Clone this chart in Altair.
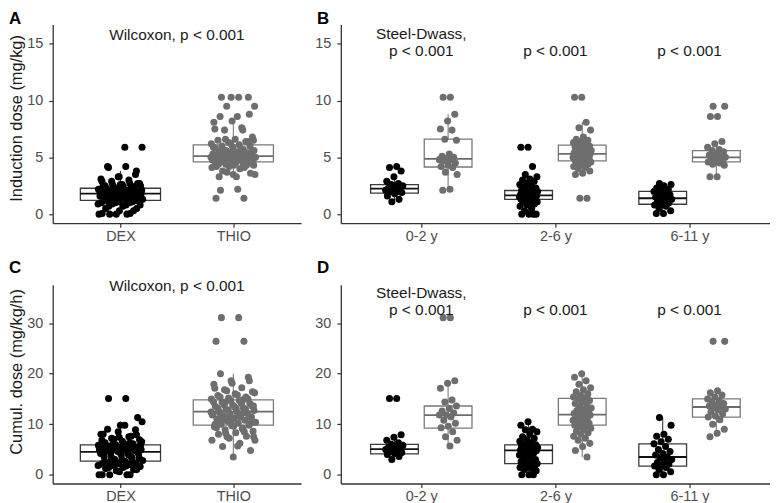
import json
import pandas as pd
import altair as alt

# ---------------- data ----------------
treatments = ["DEX", "THIO"]
age_groups = ["0-2 y", "2-6 y", "6-11 y"]

# Induction dose (mg/kg), per age group
ind_dex_0_2 = [4.2, 4.1, 3.8, 3.3, 2.9, 2.7, 2.6, 2.5, 2.4, 2.3, 2.3, 2.2, 2.1, 2.0, 2.0, 1.9, 1.8, 1.6, 1.3, 1.1]
ind_thio_0_2 = [10.3, 10.3, 8.8, 8.2, 7.5, 7.4, 6.6, 6.5, 5.3, 5.1, 5.0, 4.9, 4.8, 4.8, 4.7, 4.5, 4.3, 4.2, 4.1, 3.7, 3.5, 2.2, 2.1]
ind_dex_2_6 = [5.9, 5.9, 4.2, 3.5, 3.3, 3.1, 3.0, 2.9, 2.7, 2.6, 2.5, 2.4, 2.3, 2.2, 2.1, 2.1, 2.0, 2.0, 1.9, 1.9,
               1.8, 1.8, 1.7, 1.7, 1.7, 1.6, 1.6, 1.6, 1.5, 1.5, 1.5, 1.4, 1.4, 1.3, 1.3, 1.3, 1.2, 1.2, 1.1, 1.0,
               1.0, 0.9, 0.8, 0.7, 0.5, 0.3, 0.0, 0.0, 0.0, 0.0]
ind_thio_2_6 = [10.3, 10.3, 8.1, 7.6, 7.4, 6.8, 6.6, 6.5, 6.4, 6.3, 6.2, 6.1, 6.0, 6.0, 5.9, 5.8, 5.7, 5.6, 5.6, 5.5,
                5.5, 5.4, 5.4, 5.3, 5.3, 5.3, 5.2, 5.2, 5.1, 5.1, 5.0, 5.0, 4.9, 4.9, 4.8, 4.8, 4.7, 4.7, 4.6, 4.6,
                4.5, 4.4, 4.3, 4.2, 4.1, 4.0, 3.8, 3.6, 3.5, 1.4, 1.4]
ind_dex_6_11 = [2.7, 2.6, 2.5, 2.3, 2.2, 2.1, 2.0, 1.9, 1.8, 1.7, 1.6, 1.5, 1.4, 1.4, 1.3, 1.2, 1.1, 1.0, 0.9, 0.8,
                0.7, 0.5, 0.3, 0.05, 0.05]
ind_thio_6_11 = [9.5, 9.5, 8.6, 8.6, 6.4, 6.2, 5.9, 5.7, 5.6, 5.5, 5.3, 5.2, 5.1, 5.0, 5.0, 4.9, 4.8, 4.7, 4.6, 4.6,
                 4.5, 4.4, 4.3, 3.3, 3.3]

# Cumulative dose (mg/kg/h), per age group
cum_dex_0_2 = [15.1, 15.1, 7.9, 7.4, 6.8, 6.3, 6.0, 5.8, 5.6, 5.4, 5.2, 5.1, 5.0, 4.8, 4.6, 4.4, 4.2, 4.0, 3.6, 3.0]
cum_thio_0_2 = [31.1, 31.1, 18.6, 18.1, 17.1, 14.8, 14.4, 13.6, 13.1, 12.6, 12.2, 11.8, 11.8, 11.4, 10.8, 10.2, 9.6,
                9.3, 8.5, 7.5, 6.8, 5.7]
cum_dex_2_6 = [10.5, 9.8, 9.0, 8.9, 8.5, 8.0, 7.5, 7.2, 6.9, 6.6, 6.3, 6.1, 5.9, 5.8, 5.7, 5.6, 5.5, 5.4, 5.3, 5.2,
               5.1, 5.0, 4.9, 4.9, 4.8, 4.8, 4.7, 4.5, 4.3, 4.1, 3.9, 3.6, 3.3, 3.0, 2.8, 2.6, 2.4, 2.3, 2.2, 2.1,
               2.0, 1.8, 1.6, 1.4, 1.2, 1.0, 0.8, 0.0, 0.0, 0.0]
cum_thio_2_6 = [20.0, 19.3, 18.6, 17.9, 17.2, 16.8, 16.4, 16.0, 15.7, 15.4, 15.2, 15.0, 14.7, 14.4, 14.1, 13.8, 13.5,
                13.2, 12.9, 12.7, 12.5, 12.3, 12.1, 12.0, 11.9, 11.8, 11.6, 11.4, 11.2, 11.0, 10.8, 10.6, 10.4, 10.2,
                10.0, 9.8, 9.7, 9.5, 9.2, 8.9, 8.6, 8.3, 8.0, 7.6, 7.2, 6.8, 6.2, 5.6, 4.8, 3.5]
cum_dex_6_11 = [11.3, 9.8, 8.0, 7.6, 7.0, 6.5, 6.1, 5.6, 5.0, 4.6, 4.2, 3.9, 3.5, 3.3, 3.0, 2.7, 2.4, 2.1, 1.8, 1.7,
                1.4, 1.0, 0.6, 0.0, 0.0]
cum_thio_6_11 = [26.4, 26.4, 16.6, 16.2, 15.8, 15.4, 15.0, 14.7, 14.4, 14.1, 13.8, 13.6, 13.4, 13.2, 13.0, 12.8, 12.4,
                 12.0, 11.6, 11.4, 10.9, 10.0, 9.0, 8.2, 7.5]

# Box statistics (order: DEX, THIO)
boxA_low = [0.0, 3.3]
boxA_q1 = [1.21, 4.6]
boxA_med = [1.8, 5.1]
boxA_q3 = [2.28, 6.1]
boxA_high = [3.8, 8.2]

boxC_low = [0.0, 3.5]
boxC_q1 = [2.67, 9.8]
boxC_med = [4.5, 12.5]
boxC_q3 = [5.9, 14.8]
boxC_high = [10.5, 20.0]

# order: 0-2 DEX, 0-2 THIO, 2-6 DEX, 2-6 THIO, 6-11 DEX, 6-11 THIO
boxB_low = [1.1, 2.2, 0.3, 3.5, 0.05, 3.3]
boxB_q1 = [1.85, 4.15, 1.3, 4.7, 0.87, 4.6]
boxB_med = [2.25, 4.86, 1.65, 5.3, 1.4, 5.0]
boxB_q3 = [2.6, 6.6, 2.08, 6.07, 2.0, 5.6]
boxB_high = [3.3, 8.8, 3.1, 8.1, 2.7, 6.4]

boxD_low = [3.0, 5.7, 0.0, 3.5, 0.0, 7.5]
boxD_q1 = [4.1, 9.2, 2.2, 9.8, 1.7, 11.4]
boxD_med = [5.07, 11.8, 4.8, 11.9, 3.5, 13.4]
boxD_q3 = [6.0, 13.6, 5.9, 15.1, 6.1, 15.0]
boxD_high = [7.9, 18.6, 10.5, 20.0, 11.3, 16.6]

# test annotations: (panel, category position, y value, text)
ann_panel = ["A", "B", "B", "B", "B", "C", "D", "D", "D", "D"]
ann_x = [0.5, 0, 0, 1, 2, 0.5, 0, 0, 1, 2]
ann_y = [15.35, 15.4, 13.95, 13.95, 13.95, 36.3, 34.9, 31.7, 31.7, 31.7]
ann_text = ["Wilcoxon, p < 0.001", "Steel-Dwass,", "p < 0.001", "p < 0.001", "p < 0.001",
            "Wilcoxon, p < 0.001", "Steel-Dwass,", "p < 0.001", "p < 0.001", "p < 0.001"]

# ---------------- build tables ----------------
PHI = 0.6180339887


def jitter(i):
    return 2.0 * (((i + 1) * PHI) % 1.0) - 1.0


ind_groups = {"DEX": [ind_dex_0_2, ind_dex_2_6, ind_dex_6_11],
              "THIO": [ind_thio_0_2, ind_thio_2_6, ind_thio_6_11]}
cum_groups = {"DEX": [cum_dex_0_2, cum_dex_2_6, cum_dex_6_11],
              "THIO": [cum_thio_0_2, cum_thio_2_6, cum_thio_6_11]}

rows = []
for overall, split, groups in (("A", "B", ind_groups), ("C", "D", cum_groups)):
    for ti, t in enumerate(treatments):
        allv = [v for g in groups[t] for v in g]
        for i, v in enumerate(allv):
            rows.append({"panel": overall, "treat": t, "x": ti + 0.2 * jitter(i), "y": v})
        for ai, g in enumerate(groups[t]):
            dodge = -0.2 if t == "DEX" else 0.2
            for i, v in enumerate(g):
                rows.append({"panel": split, "treat": t, "x": ai + dodge + 0.07 * jitter(i + 3 * ai), "y": v})
points = pd.DataFrame(rows)

brows = []
for pid, lo, q1, md, q3, hi in (("A", boxA_low, boxA_q1, boxA_med, boxA_q3, boxA_high),
                               ("C", boxC_low, boxC_q1, boxC_med, boxC_q3, boxC_high)):
    for ti, t in enumerate(treatments):
        brows.append({"panel": pid, "treat": t, "xc": ti, "x1": ti - 0.355, "x2": ti + 0.355,
                      "low": lo[ti], "q1": q1[ti], "med": md[ti], "q3": q3[ti], "high": hi[ti]})
for pid, lo, q1, md, q3, hi in (("B", boxB_low, boxB_q1, boxB_med, boxB_q3, boxB_high),
                               ("D", boxD_low, boxD_q1, boxD_med, boxD_q3, boxD_high)):
    k = 0
    for ai, a in enumerate(age_groups):
        for ti, t in enumerate(treatments):
            c = ai + (-0.2 if t == "DEX" else 0.2)
            brows.append({"panel": pid, "treat": t, "xc": c, "x1": c - 0.178, "x2": c + 0.178,
                          "low": lo[k], "q1": q1[k], "med": md[k], "q3": q3[k], "high": hi[k]})
            k += 1
boxes = pd.DataFrame(brows)

ann = pd.DataFrame({"panel": ann_panel, "x": ann_x, "y": ann_y, "label": ann_text})

# ---------------- styling ----------------
FONT = "Liberation Sans"
point_colors = ["#000000", "#6e6e6e"]
box_colors = ["#3a3a3a", "#7a7a7a"]
median_colors = ["#111111", "#6b6b6b"]


def cscale(rng):
    return alt.Scale(domain=treatments, range=rng)


def panel(pid, width, height, ydomain, yticks, cats, ytitle, title_frac, letter_xy):
    pts = points[points.panel == pid]
    bx = boxes[boxes.panel == pid]
    an = ann[ann.panel == pid]
    xs = alt.Scale(domain=[-0.6, len(cats) - 0.4], nice=False, zero=False)
    ys = alt.Scale(domain=ydomain, nice=False, zero=False)
    xaxis = alt.Axis(values=list(range(len(cats))), labelExpr=json.dumps(cats) + "[datum.value]",
                     labelPadding=2)
    yaxis = alt.Axis(values=yticks, labelPadding=6, titleX=-36.5, titleY=height * title_frac,
                     titleAngle=270, titleBaseline="middle", titleAlign="center")

    def X(f):
        return alt.X(f, scale=xs, axis=xaxis, title="")

    def Y(f):
        return alt.Y(f, scale=ys, axis=yaxis, title=ytitle)

    whisk_lo = alt.Chart(bx).mark_rule(strokeWidth=1.1).encode(
        x=X("xc:Q"), y=Y("low:Q"), y2="q1:Q",
        color=alt.Color("treat:N", scale=cscale(box_colors), legend=None))
    whisk_hi = alt.Chart(bx).mark_rule(strokeWidth=1.1).encode(
        x=X("xc:Q"), y=Y("q3:Q"), y2="high:Q",
        color=alt.Color("treat:N", scale=cscale(box_colors), legend=None))
    box = alt.Chart(bx).mark_bar(fill="white", strokeWidth=1.3).encode(
        x=X("x1:Q"), x2="x2:Q", y=Y("q1:Q"), y2="q3:Q",
        stroke=alt.Stroke("treat:N", scale=cscale(box_colors), legend=None))
    med = alt.Chart(bx).mark_rule(strokeWidth=1.8).encode(
        x=X("x1:Q"), x2="x2:Q", y=Y("med:Q"),
        color=alt.Color("treat:N", scale=cscale(median_colors), legend=None))
    dots = alt.Chart(pts).mark_circle(size=50, opacity=1).encode(
        x=X("x:Q"), y=Y("y:Q"),
        color=alt.Color("treat:N", scale=cscale(point_colors), legend=None))
    txt = alt.Chart(an).mark_text(font=FONT, fontSize=15.5, color="#1a1a1a", align="center",
                                  baseline="alphabetic").encode(
        x=X("x:Q"), y=Y("y:Q"), text="label:N")
    let = alt.Chart(pd.DataFrame({"letter": [pid]})).mark_text(
        font=FONT, fontSize=17, fontWeight="bold", color="#000000", align="left",
        baseline="top").encode(
        x=alt.value(letter_xy[0]), y=alt.value(letter_xy[1]), text="letter:N")
    return alt.layer(whisk_lo, whisk_hi, box, med, dots, txt, let).resolve_scale(
        color="independent", stroke="independent").properties(width=width, height=height)


H = 200
WA, WB = 250, 432
pA = panel("A", WA, H, [-0.8, 16.7], [0, 5, 10, 15], treatments, "Induction dose (mg/kg)", 0.47, (-44, -14))
pB = panel("B", WB, H, [-0.8, 16.7], [0, 5, 10, 15], age_groups, "", 0.47, (-24, -14))
pC = panel("C", WA, H, [-1.75, 37.6], [0, 10, 20, 30], treatments, "Cumul. dose (mg/kg/h)", 0.436, (-44, -25))
pD = panel("D", WB, H, [-1.75, 37.6], [0, 10, 20, 30], age_groups, "", 0.436, (-24, -25))

chart = alt.concat(pA, pB, pC, pD, columns=2, spacing={"row": 62, "column": 40}, bounds="flush").properties(
    padding={"left": 0, "top": 0, "right": 0, "bottom": 0}
).configure_view(stroke=None).configure_axis(
    grid=False, domainColor="#333333", domainWidth=1.3, tickColor="#333333", tickWidth=1.2,
    tickSize=4, labelColor="#4d4d4d", labelFont=FONT, labelFontSize=14.5,
    titleFont=FONT, titleFontSize=16.5, titleColor="#1a1a1a", titleFontWeight="normal"
)

chart.save("out.html", embed_options={"renderer": "svg", "actions": False})
